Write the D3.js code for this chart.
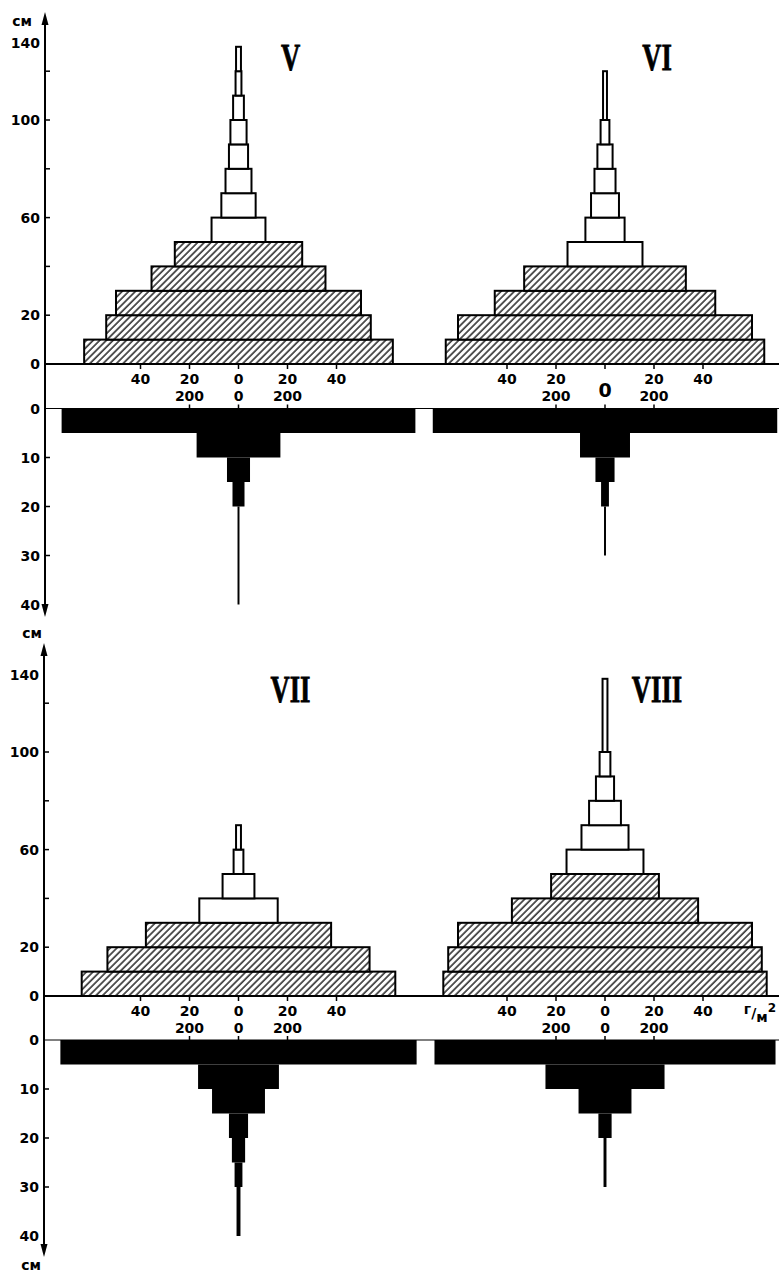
<!DOCTYPE html>
<html>
<head>
<meta charset="utf-8">
<script src="https://cdn.jsdelivr.net/npm/d3@7"></script>
<style>
  html, body { margin: 0; padding: 0; background: #fff; }
  svg { display: block; }
  .num { font-family: "DejaVu Sans", sans-serif; font-weight: bold; font-size: 14px; fill: #000; }
  .roman { font-family: "Liberation Serif", serif; font-weight: bold; font-size: 37px; fill: #000; stroke: #000; stroke-width: 0.8px; }
</style>
</head>
<body>
<svg id="chart" width="779" height="1272"></svg>
<script>
// Stand names
const panelNames = ["V", "VI", "VII", "VIII"];

// Above-ground layers: layer boundaries (cm) and half-width of each layer (g/m², per side)
const shootBoundsV = [0, 10, 20, 30, 40, 50, 60, 70, 80, 90, 100, 110, 120, 130];
const shootMassV = [63, 54, 50, 35.5, 26, 11, 7, 5.3, 3.9, 3.3, 2.2, 1.2, 1.0];
const shootHatchedV = 5;

const shootBoundsVI = [0, 10, 20, 30, 40, 50, 60, 70, 80, 90, 100, 120];
const shootMassVI = [65, 60, 45, 33, 15.3, 8, 5.7, 4.3, 3.1, 1.8, 0.8];
const shootHatchedVI = 4;

const shootBoundsVII = [0, 10, 20, 30, 40, 50, 60, 70];
const shootMassVII = [64, 53.5, 37.8, 16, 6.5, 2, 1];
const shootHatchedVII = 3;

const shootBoundsVIII = [0, 10, 20, 30, 40, 50, 60, 70, 80, 90, 100, 130];
const shootMassVIII = [66, 64, 60, 38, 22, 15.7, 9.6, 6.5, 3.7, 2.2, 1];
const shootHatchedVIII = 5;

// Below-ground layers: depth boundaries (cm) and root mass half-width (g/m², per side)
const rootBoundsV = [0, 5, 10, 15, 20, 40];
const rootMassV = [722, 171, 47, 24.5, 4];

const rootBoundsVI = [0, 5, 10, 15, 20, 30];
const rootMassVI = [703, 102, 39, 16, 4];

const rootBoundsVII = [0, 5, 10, 15, 20, 25, 30, 40];
const rootMassVII = [727, 165, 108, 39, 27, 16, 8];

const rootBoundsVIII = [0, 5, 10, 15, 20, 30];
const rootMassVIII = [696, 243, 108, 27, 6];

// Axis tick values and labels
const heightTicks = [20, 40, 60, 80, 100, 120];
const heightLabels = [0, 20, 60, 100, 140];
const depthTicks = [10, 20, 30];
const depthLabels = [0, 10, 20, 30, 40];
const shootTickValues = [-40, -20, 0, 20, 40];
const rootTickValues = [-200, 0, 200];
const unitHeight = "см";
const unitMass = ["г", "м", "2"];

const panels = [
  { name: panelNames[0], bounds: shootBoundsV, mass: shootMassV, hatched: shootHatchedV, rb: rootBoundsV, rm: rootMassV },
  { name: panelNames[1], bounds: shootBoundsVI, mass: shootMassVI, hatched: shootHatchedVI, rb: rootBoundsVI, rm: rootMassVI, singleZero: true },
  { name: panelNames[2], bounds: shootBoundsVII, mass: shootMassVII, hatched: shootHatchedVII, rb: rootBoundsVII, rm: rootMassVII },
  { name: panelNames[3], bounds: shootBoundsVIII, mass: shootMassVIII, hatched: shootHatchedVIII, rb: rootBoundsVIII, rm: rootMassVIII, unit: true }
];

const svg = d3.select("#chart");
const W = 779;

// Diagonal hatching for the lower layers
const defs = svg.append("defs");
const pat = defs.append("pattern")
  .attr("id", "hatch")
  .attr("patternUnits", "userSpaceOnUse")
  .attr("width", 4.7).attr("height", 10)
  .attr("patternTransform", "rotate(45)");
pat.append("rect").attr("width", 4.7).attr("height", 10).attr("fill", "#fff");
pat.append("line").attr("x1", 1).attr("y1", 0).attr("x2", 1).attr("y2", 10)
  .attr("stroke", "#000").attr("stroke-width", 1.3);

// Two rows, each with a ground line and a soil-surface line
const rows = [
  { ground: 364, soil: 408.5, axisX: 45, top: 12, bottom: 617 },
  { ground: 996, soil: 1040, axisX: 44, top: 643, bottom: 1257 }
];
const centers = [238.5, 605];

function arrow(g, x, y, dir) {
  // dir = -1 points up, 1 points down
  g.append("path")
    .attr("d", `M${x},${y} L${x - 3.5},${y - dir * 13} L${x + 3.5},${y - dir * 13} Z`)
    .attr("fill", "#000");
}

rows.forEach((row, ri) => {
  const g = svg.append("g");
  const yH = d3.scaleLinear().domain([0, 120]).range([row.ground, row.ground - 292.8]);
  const yD = d3.scaleLinear().domain([0, 40]).range([row.soil, row.soil + 196]);
  row.yH = yH; row.yD = yD;

  // vertical axis with arrows
  g.append("line").attr("x1", row.axisX).attr("x2", row.axisX)
    .attr("y1", row.top + 4).attr("y2", row.bottom - 4)
    .attr("stroke", "#000").attr("stroke-width", 2);
  arrow(g, row.axisX, row.top, -1);
  arrow(g, row.axisX, row.bottom, 1);

  // ground and soil surface lines
  g.append("line").attr("x1", row.axisX).attr("x2", W)
    .attr("y1", row.ground).attr("y2", row.ground)
    .attr("stroke", "#000").attr("stroke-width", 2);
  g.append("line").attr("x1", row.axisX).attr("x2", W)
    .attr("y1", row.soil).attr("y2", row.soil)
    .attr("stroke", "#000").attr("stroke-width", 1);

  // height ticks and labels
  g.selectAll(".ht").data(heightTicks).enter().append("line")
    .attr("x1", row.axisX).attr("x2", row.axisX + 5)
    .attr("y1", d => yH(d)).attr("y2", d => yH(d))
    .attr("stroke", "#000").attr("stroke-width", 1.5);
  g.selectAll(".hl").data(heightLabels).enter().append("text")
    .attr("class", "num")
    .attr("x", row.axisX - 5)
    // the topmost label is tucked under the unit caption
    .attr("y", d => d === 140 ? yH(d) + 21 : yH(d))
    .attr("text-anchor", "end").attr("dominant-baseline", "central")
    .text(d => d);

  // depth ticks and labels
  g.selectAll(".dt").data(depthTicks).enter().append("line")
    .attr("x1", row.axisX).attr("x2", row.axisX + 5)
    .attr("y1", d => yD(d)).attr("y2", d => yD(d))
    .attr("stroke", "#000").attr("stroke-width", 1.5);
  g.selectAll(".dl").data(depthLabels).enter().append("text")
    .attr("class", "num")
    .attr("x", row.axisX - 5)
    .attr("y", d => yD(d))
    .attr("text-anchor", "end").attr("dominant-baseline", "central")
    .text(d => d);
});

// unit captions on the vertical axis
svg.append("text").attr("class", "num").attr("x", 22).attr("y", 21)
  .attr("text-anchor", "middle").attr("dominant-baseline", "central").text(unitHeight);
svg.append("text").attr("class", "num").attr("x", 32).attr("y", 633)
  .attr("text-anchor", "middle").attr("dominant-baseline", "central").text(unitHeight);
svg.append("text").attr("class", "num").attr("x", 31).attr("y", 1265)
  .attr("text-anchor", "middle").attr("dominant-baseline", "central").text(unitHeight);

panels.forEach((p, i) => {
  const row = rows[Math.floor(i / 2)];
  const cx = centers[i % 2];
  const g = svg.append("g");
  const xS = d3.scaleLinear().domain([0, 20]).range([cx, cx + 49]);
  const xR = d3.scaleLinear().domain([0, 200]).range([cx, cx + 49]);
  const yH = row.yH, yD = row.yD;

  // above-ground layers
  const layers = p.mass.map((m, k) => ({ lo: p.bounds[k], hi: p.bounds[k + 1], m, hatched: k < p.hatched }));
  g.selectAll(".shoot").data(layers).enter().append("rect")
    .attr("x", d => xS(-d.m))
    .attr("width", d => xS(d.m) - xS(-d.m))
    .attr("y", d => yH(d.hi))
    .attr("height", d => yH(d.lo) - yH(d.hi))
    .attr("fill", d => d.hatched ? "url(#hatch)" : "#fff")
    .attr("stroke", "#000").attr("stroke-width", 2);

  // below-ground layers
  const roots = p.rm.map((m, k) => ({ lo: p.rb[k], hi: p.rb[k + 1], m }));
  g.selectAll(".root").data(roots).enter().append("rect")
    .attr("x", d => xR(-d.m))
    .attr("width", d => xR(d.m) - xR(-d.m))
    .attr("y", d => yD(d.lo))
    .attr("height", d => yD(d.hi) - yD(d.lo))
    .attr("fill", "#000");

  // ticks on the ground line (shoot scale) and soil line (root scale)
  g.selectAll(".st").data(shootTickValues).enter().append("line")
    .attr("x1", d => xS(d)).attr("x2", d => xS(d))
    .attr("y1", row.ground).attr("y2", row.ground + 5)
    .attr("stroke", "#000").attr("stroke-width", 1.5);
  g.selectAll(".rt").data(rootTickValues).enter().append("line")
    .attr("x1", d => xR(d)).attr("x2", d => xR(d))
    .attr("y1", row.soil - 4).attr("y2", row.soil)
    .attr("stroke", "#000").attr("stroke-width", 1.5);

  // scale labels: upper row for shoots, lower row for roots
  const upper = p.singleZero ? shootTickValues.filter(d => d !== 0) : shootTickValues;
  const lower = p.singleZero ? rootTickValues.filter(d => d !== 0) : rootTickValues;
  g.selectAll(".sl").data(upper).enter().append("text")
    .attr("class", "num").attr("x", d => xS(d)).attr("y", row.ground + 15)
    .attr("text-anchor", "middle").attr("dominant-baseline", "central")
    .text(d => Math.abs(d));
  g.selectAll(".rl").data(lower).enter().append("text")
    .attr("class", "num").attr("x", d => xR(d)).attr("y", row.ground + 32)
    .attr("text-anchor", "middle").attr("dominant-baseline", "central")
    .text(d => Math.abs(d));
  if (p.singleZero) {
    g.append("text").attr("class", "num").style("font-size", "19px")
      .attr("x", xS(0)).attr("y", row.ground + 26)
      .attr("text-anchor", "middle").attr("dominant-baseline", "central").text(0);
  }
  if (p.unit) {
    const t = g.append("text").attr("class", "num")
      .attr("x", xS(60) + 8).attr("y", row.ground + 17)
      .attr("text-anchor", "middle").attr("dominant-baseline", "central");
    t.append("tspan").attr("dy", -4).text(unitMass[0]);
    t.append("tspan").attr("dy", 4).text("/");
    t.append("tspan").attr("dy", 4).text(unitMass[1]);
    t.append("tspan").attr("dy", -9).style("font-size", "12px").text(unitMass[2]);
  }

  // stand numeral
  g.append("text").attr("class", "roman")
    .attr("transform", `translate(${cx + 52},${row.ground - 307}) scale(0.72,1)`)
    .attr("text-anchor", "middle").attr("dominant-baseline", "central")
    .text(p.name);
});
</script>
</body>
</html>
